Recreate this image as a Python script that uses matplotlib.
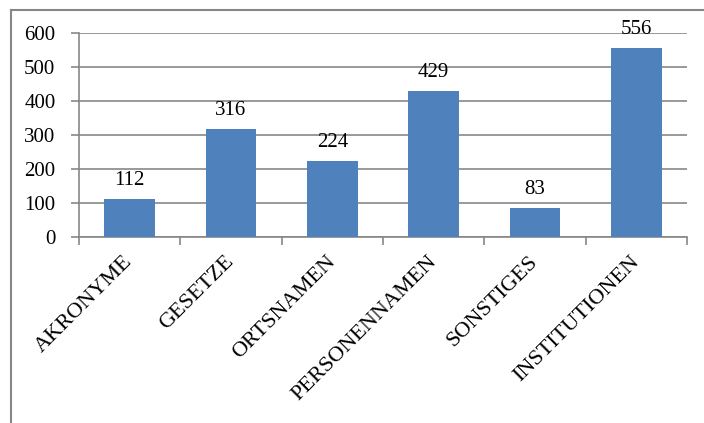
import matplotlib
matplotlib.use("Agg")
import matplotlib.pyplot as plt
from matplotlib.lines import Line2D
import numpy as np

categories = ["AKRONYME", "GESETZE", "ORTSNAMEN", "PERSONENNAMEN", "SONSTIGES", "INSTITUTIONEN"]
values = [112, 316, 224, 429, 83, 556]
y_ticks = [0, 100, 200, 300, 400, 500, 600]

W, H = 704, 423
plt.rcParams["font.family"] = ["Liberation Serif", "DejaVu Serif"]
fig = plt.figure(figsize=(W / 100, H / 100), dpi=100)
fig.patch.set_facecolor("white")

ax = fig.add_axes([79 / W, 1 - 236.7 / H, (687 - 79) / W, (236.7 - 32.7) / H])

grey = "#878787"
x = np.arange(len(categories))
bars = ax.bar(x, values, width=0.5, color="#4F81BD", zorder=3)

for xi, v in zip(x, values):
    ax.annotate(str(v), (xi, v), xytext=(0, 6.5), textcoords="offset points",
                ha="center", va="bottom", fontsize=15, color="black")

ax.set_xlim(-0.5, len(categories) - 0.5)
ax.set_ylim(0, 600)
ax.set_yticks(y_ticks)
ax.set_yticklabels([str(t) for t in y_ticks])
ax.yaxis.grid(True, color=grey, linewidth=1.2, zorder=0)
ax.set_axisbelow(True)

for s in ("top", "right"):
    ax.spines[s].set_visible(False)
for s in ("left", "bottom"):
    ax.spines[s].set_color(grey)
    ax.spines[s].set_linewidth(1.2)

ax.tick_params(axis="y", length=6, width=1.2, color=grey, pad=11, labelsize=15)

# category labels centred under bars, tick marks at category boundaries
ax.set_xticks(x)
ax.set_xticklabels(categories, rotation=45, ha="right", va="center",
                   rotation_mode="anchor", fontsize=16)
ax.tick_params(axis="x", which="major", length=0, pad=16)
ax.set_xticks(np.arange(-0.5, len(categories), 1.0), minor=True)
ax.tick_params(axis="x", which="minor", length=6, width=1.2, color=grey)

# chart-area frame
fig.add_artist(Line2D([11 / W, 11 / W], [0, 1 - 10 / H], transform=fig.transFigure,
                      color=grey, linewidth=1.5))
fig.add_artist(Line2D([11 / W, 1], [1 - 10 / H, 1 - 10 / H], transform=fig.transFigure,
                      color=grey, linewidth=1.5))

fig.savefig("out.png", dpi=100)
